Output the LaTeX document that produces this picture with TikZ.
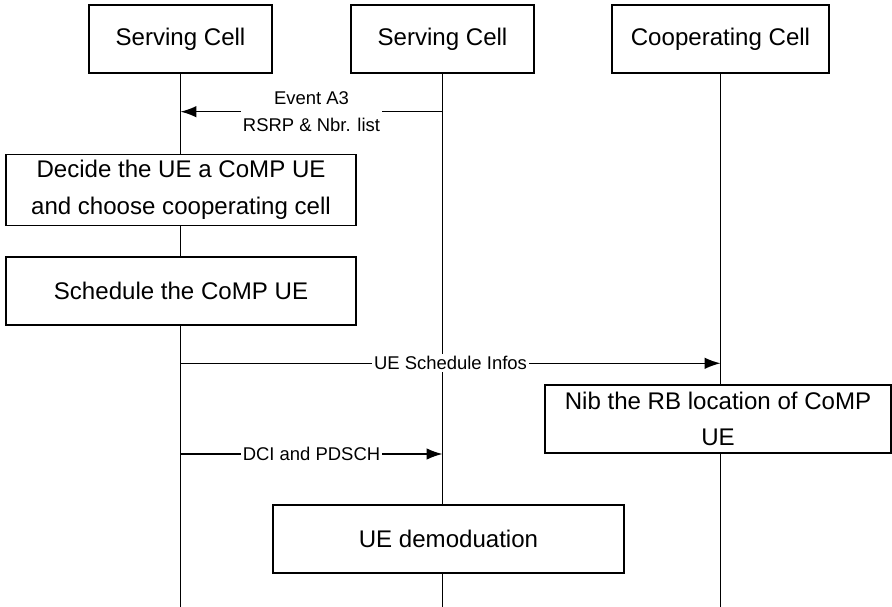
\documentclass[tikz,border=0pt]{standalone}
\usepackage{fontspec}
\setmainfont{Liberation Sans}
\usetikzlibrary{arrows.meta}

\tikzset{
  cellbox/.style={draw, line width=0.75pt, fill=white, minimum width=3.66cm,
    minimum height=1.36cm, font=\fontsize{13.7}{20.8}\selectfont},
  actbox/.style={draw, line width=0.75pt, fill=white, minimum height=1.36cm,
    align=center, font=\fontsize{13.7}{20.8}\selectfont},
  lifeline/.style={line width=0.8pt},
  msg/.style={line width=0.8pt, -{Latex[length=9pt,width=6.5pt]}},
  msglabel/.style={fill=white, inner sep=1.2pt, align=center,
    font=\fontsize{10.5}{15.1}\selectfont}
}

\begin{document}
\begin{tikzpicture}[x=0.02cm, y=-0.02cm]
	%%%%% START %%%%%
	\useasboundingbox (0,0) rectangle (892,607);
	
	% cells on top
	\node[cellbox] (serv1) at (180.5,39) {Serving Cell};
	\node[cellbox] (serv2) at (442.5,39) {Serving Cell};
	\node[cellbox, minimum width=4.34cm] (coop) at (720.5,39) {Cooperating Cell};
	
	% lifelines
	\coordinate (serv1end) at (180.5,607);
	\coordinate (serv2end) at (442.5,607);
	\coordinate (coopend) at (720.5,607);
	\draw[lifeline] (serv1) -- (serv1end);
	\draw[lifeline] (serv2) -- (serv2end);
	\draw[lifeline] (coop) -- (coopend);
	
	% actions
	\node[actbox, minimum width=7cm] (decide) at (181,190) {Decide the UE a CoMP UE\\and choose cooperating cell};
	\node[actbox, minimum width=7cm] (sched) at (181,291) {Schedule the CoMP UE};
	\node[actbox, minimum width=6.92cm] (nib) at (718,419) {Nib the RB location of CoMP\\UE};
	\node[actbox, minimum width=7.02cm] (demod) at (448.5,539) {UE demoduation};
	
	% messages
	\coordinate (a3from) at (442.5,111.7);
	\coordinate (a3to) at (180.5,111.7);
	\draw[msg] (a3from) -- node[msglabel] {Event A3\\RSRP \& Nbr. list} (a3to);
	
	\coordinate (infofrom) at (180.5,363.3);
	\coordinate (infoto) at (720.5,363.3);
	\draw[msg] (infofrom) -- node[msglabel] {UE Schedule Infos} (infoto);
	
	\coordinate (dcifrom) at (180.5,454);
	\coordinate (dcito) at (442.5,454);
	\draw[msg] (dcifrom) -- node[msglabel] {DCI and PDSCH} (dcito);
	%%%%% END %%%%%
\end{tikzpicture}
\end{document}
